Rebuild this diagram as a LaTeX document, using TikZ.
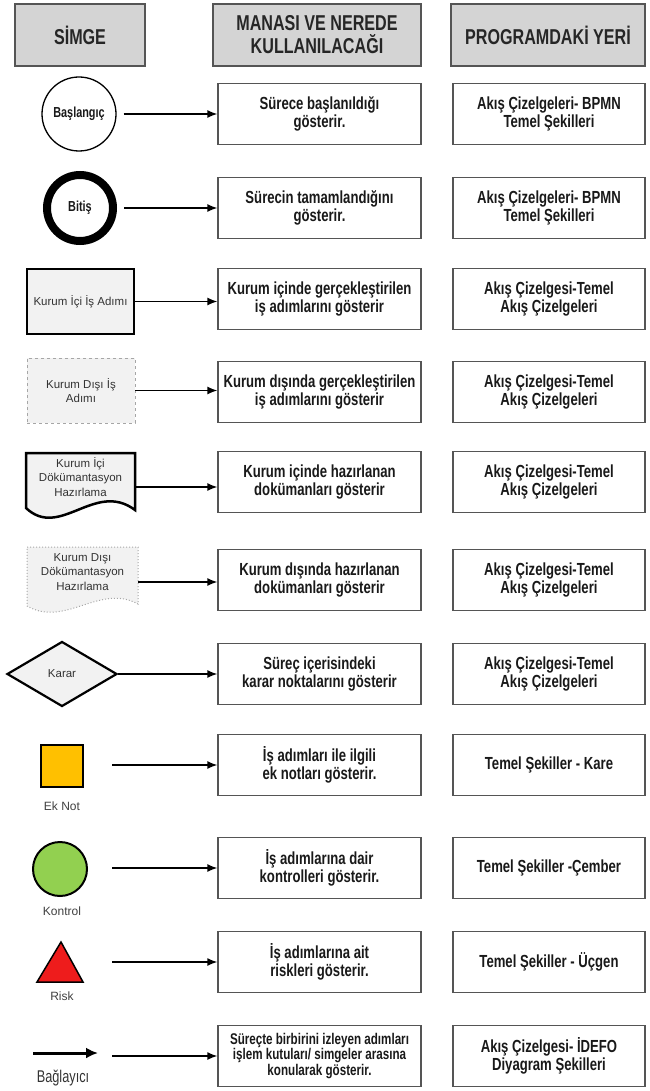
\documentclass[tikz,border=0pt]{standalone}
\usepackage{fontspec}
\setmainfont{Liberation Sans}
\newfontfamily\cond[FakeStretch=0.75]{Liberation Sans}
\usetikzlibrary{arrows.meta,shapes.geometric}
\definecolor{hdrfill}{HTML}{D4D4D4}
\definecolor{bord}{HTML}{555555}
\definecolor{symfill}{HTML}{F2F2F2}
\definecolor{notefill}{HTML}{FFC000}
\definecolor{ctrlfill}{HTML}{92D050}
\definecolor{riskfill}{HTML}{EE1C1C}
\begin{document}
\begin{tikzpicture}[x=1pt,y=-1pt,
  hdr/.style={draw=bord, line width=1.2pt, fill=hdrfill, minimum height=62pt, inner sep=0pt, align=center, font=\cond\bfseries\fontsize{21.5}{23}\selectfont, text=black!85},
  desc/.style={draw=bord, line width=1.3pt, minimum width=203pt, minimum height=61pt, inner sep=0pt, align=center, font=\cond\bfseries\fontsize{17.5}{17.5}\selectfont, text=black!90},
  prog/.style={desc, minimum width=192pt},
  arr/.style={line width=1.5pt, -{Latex[length=10pt,width=8pt]}},
  lbl/.style={font=\fontsize{12}{13}\selectfont, text=black!75},
  symtxt/.style={font=\fontsize{11.5}{14.5}\selectfont, text=black!80, align=center},
  circtxt/.style={font=\cond\bfseries\fontsize{14.5}{15}\selectfont, text=black!90},
]
\useasboundingbox (0,0) rectangle (649,1091);

% headers
\node[hdr, minimum width=130pt] (h1) at (80,35) {SİMGE};
\node[hdr, minimum width=208pt] (h2) at (317,35) {MANASI VE NEREDE\\KULLANILACAĞI};
\node[hdr, minimum width=194pt] (h3) at (548,35) {PROGRAMDAKİ YERİ};

% description and program boxes
\node[desc] (m1) at (319.5,114) {Sürece başlanıldığı\\gösterir.};
\node[prog] (p1) at (549,114) {Akış Çizelgeleri- BPMN\\Temel Şekilleri};
\node[desc] (m2) at (319.5,208) {Sürecin tamamlandığını\\gösterir.};
\node[prog] (p2) at (549,208) {Akış Çizelgeleri- BPMN\\Temel Şekilleri};
\node[desc] (m3) at (319.5,299) {Kurum içinde gerçekleştirilen\\iş adımlarını gösterir};
\node[prog] (p3) at (549,299) {Akış Çizelgesi-Temel\\Akış Çizelgeleri};
\node[desc] (m4) at (319.5,392) {Kurum dışında gerçekleştirilen\\iş adımlarını gösterir};
\node[prog] (p4) at (549,392) {Akış Çizelgesi-Temel\\Akış Çizelgeleri};
\node[desc] (m5) at (319.5,482) {Kurum içinde hazırlanan\\dokümanları gösterir};
\node[prog] (p5) at (549,482) {Akış Çizelgesi-Temel\\Akış Çizelgeleri};
\node[desc] (m6) at (319.5,580) {Kurum dışında hazırlanan\\dokümanları gösterir};
\node[prog] (p6) at (549,580) {Akış Çizelgesi-Temel\\Akış Çizelgeleri};
\node[desc] (m7) at (319.5,674) {Süreç içerisindeki\\karar noktalarını gösterir};
\node[prog] (p7) at (549,674) {Akış Çizelgesi-Temel\\Akış Çizelgeleri};
\node[desc] (m8) at (319.5,765) {İş adımları ile ilgili\\ek notları gösterir.};
\node[prog] (p8) at (549,765) {Temel Şekiller - Kare};
\node[desc] (m9) at (319.5,868) {İş adımlarına dair\\kontrolleri gösterir.};
\node[prog] (p9) at (549,868) {Temel Şekiller -Çember};
\node[desc] (m10) at (319.5,962) {İş adımlarına ait\\riskleri gösterir.};
\node[prog] (p10) at (549,962) {Temel Şekiller - Üçgen};
\node[desc, font=\cond\bfseries\fontsize{15.5}{14}\selectfont] (m11) at (319.5,1056) {Süreçte birbirini izleyen adımları\\işlem kutuları/ simgeler arasına\\konularak gösterir.};
\node[prog] (p11) at (549,1056) {Akış Çizelgesi- İDEFO\\Diyagram Şekilleri};

% symbols
\node[circle, draw, line width=1.3pt, minimum size=74pt, inner sep=0pt, circtxt] (s1) at (79,114) {Başlangıç};
\node[circle, draw, line width=8pt, minimum size=66pt, inner sep=0pt, circtxt] (s2) at (80,208) {Bitiş};
\node[draw, line width=2.5pt, fill=symfill, minimum width=107pt, minimum height=65pt, inner sep=0pt, symtxt] (s3) at (80.5,301.5) {Kurum İçi İş Adımı};
\node[draw=gray!70, dashed, line width=0.8pt, fill=symfill, minimum width=108pt, minimum height=65pt, inner sep=0pt, symtxt] (s4) at (81,390.5) {Kurum Dışı İş\\Adımı};

\draw[line width=2.5pt, fill=symfill] (26,453) -- (135,453) -- (135,510) .. controls (95,480) and (60,540) .. (26,508) -- cycle;
\node[symtxt] (s5) at (80.5,477) {Kurum İçi\\Dökümantasyon\\Hazırlama};
\coordinate (s5e) at (135,487);

\draw[draw=gray!70, dotted, line width=1pt, fill=symfill] (27,547) -- (138,547) -- (138,604) .. controls (100,583) and (65,628) .. (27,606) -- cycle;
\node[symtxt] (s6) at (82.5,572) {Kurum Dışı\\Dökümantasyon\\Hazırlama};
\coordinate (s6e) at (138,582);

\node[diamond, draw, line width=2.2pt, fill=symfill, minimum width=110pt, minimum height=65pt, inner sep=0pt, symtxt] (s7) at (62,674) {Karar};

\node[draw, line width=1.5pt, fill=notefill, minimum size=42pt, inner sep=0pt] (s8) at (62,766) {};
\node[lbl] (l8) at (62,806) {Ek Not};
\coordinate (a8) at (112,765);

\node[circle, draw, line width=2pt, fill=ctrlfill, minimum size=54pt, inner sep=0pt] (s9) at (60,869) {};
\node[lbl] (l9) at (62,911) {Kontrol};
\coordinate (a9) at (112,868);

\draw[line width=1.5pt, fill=riskfill, line join=miter] (61,942) -- (83,982) -- (37,982) -- cycle;
\coordinate (s10) at (61,966);
\node[lbl] (l10) at (62,996) {Risk};
\coordinate (a10) at (112,962);

\coordinate (s11a) at (33,1053);
\coordinate (s11b) at (98,1053);
\draw[line width=3pt, -{Latex[length=12pt,width=11pt]}] (s11a) -- (s11b);
\node[font=\cond\fontsize{17}{18}\selectfont, text=black!80] (l11) at (63,1078) {Bağlayıcı};
\coordinate (a11) at (112,1056);

% connectors
\draw[arr, shorten <=7pt] (s1.east) -- (s1.east -| m1.west);
\draw[arr, shorten <=7pt] (s2.east) -- (s2.east -| m2.west);
\draw[arr] (s3.east) -- (s3.east -| m3.west);
\draw[arr] (s4.east) -- (s4.east -| m4.west);
\draw[arr] (s5e) -- (s5e -| m5.west);
\draw[arr] (s6e) -- (s6e -| m6.west);
\draw[arr] (s7.east) -- (s7.east -| m7.west);
\draw[arr] (a8) -- (m8.west);
\draw[arr] (a9) -- (m9.west);
\draw[arr] (a10) -- (m10.west);
\draw[arr] (a11) -- (m11.west);
\end{tikzpicture}
\end{document}
